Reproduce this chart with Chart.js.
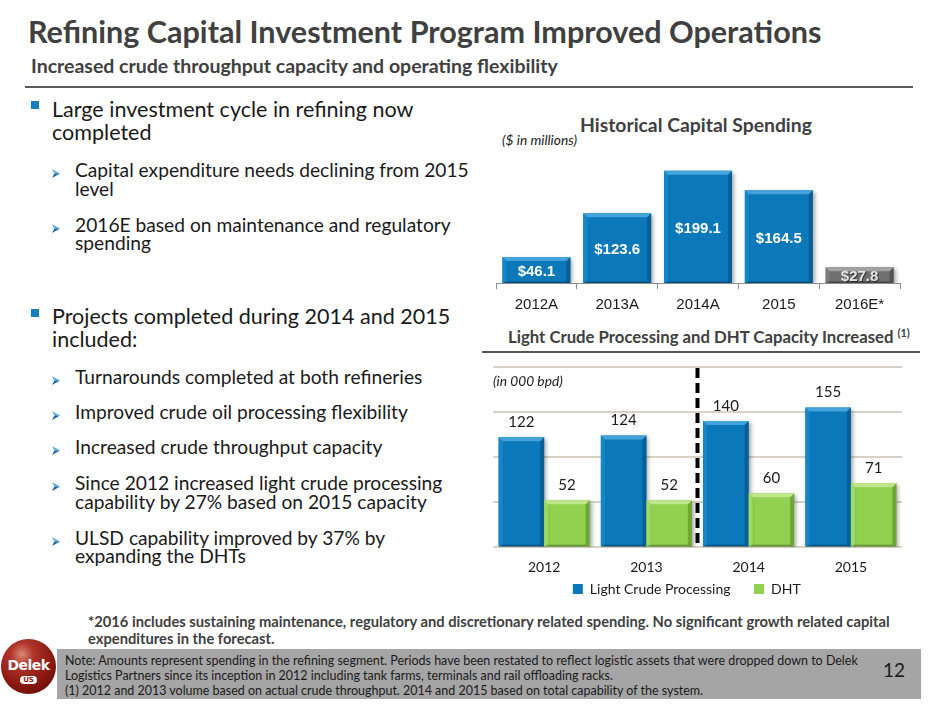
<!DOCTYPE html>
<html><head><meta charset="utf-8">
<script src="https://cdn.jsdelivr.net/npm/chart.js@4.4.1/dist/chart.umd.min.js"></script>
<style>
html,body{margin:0;padding:0;background:#fff;}
#page{position:relative;width:940px;height:705px;overflow:hidden;font-family:Lato,"Open Sans",sans-serif;}
.t{position:absolute;white-space:nowrap;line-height:1.2;color:#1a1a1a;}
.b{font-weight:700;}
.g{color:#404040;}
.i{font-style:italic;}
sup{font-size:0.65em;vertical-align:0.55em;line-height:0;}
.sq{position:absolute;width:8px;height:8px;background:#1a7fc1;}
.ar{position:absolute;width:8px;height:9px;}
#rule{position:absolute;left:25px;top:86px;width:888px;height:2px;background:#5a5a5a;}
#rule2{position:absolute;left:482px;top:351px;width:438px;height:2px;background:#555;}
#notebox{position:absolute;left:57px;top:649px;width:864px;height:50px;background:#a5a5a5;}
#logo{position:absolute;left:1px;top:639px;width:55px;height:55px;border-radius:50%;
 background:radial-gradient(circle at 38% 28%,#d98a78 0%,#b0352a 22%,#8c1a12 55%,#5c0906 100%);}
#logo .dl{position:absolute;left:0;width:55px;top:18px;text-align:center;color:#fff;font:900 14px "DejaVu Sans",sans-serif;letter-spacing:-0.5px;}
#logo .us{position:absolute;left:19px;top:37px;width:17px;height:8px;border-radius:4px;background:#fff;color:#8c1a12;font:700 7px "DejaVu Sans",sans-serif;text-align:center;line-height:8px;}
.cw{position:absolute;}
</style></head><body><div id="page">

<div class="t b g" data-g="title" data-w="794" data-b="43" style="left:28px;font-size:28px;">Refining Capital Investment Program Improved Operations</div>
<div class="t b g" data-g="sub" data-w="527" data-b="73" style="left:31px;font-size:17px;">Increased crude throughput capacity and operating flexibility</div>
<div id="rule"></div>

<div class="sq" style="left:31px;top:101px;"></div>
<div class="t" data-g="main" data-w="363" data-b="117" style="left:52px;font-size:21px;">Large investment cycle in refining now</div>
<div class="t" data-g="main" data-b="140" style="left:52px;font-size:21px;">completed</div>

<svg class="ar" style="left:52px;top:169px;" viewBox="0 0 10 11"><polygon points="0,0 10,5.5 3,5.5" fill="#5fb0e3"/><polygon points="3,5.5 10,5.5 0,11" fill="#1766ad"/></svg>
<div class="t" data-g="arr" data-w="394" data-b="177" style="left:75px;font-size:18px;">Capital expenditure needs declining from 2015</div>
<div class="t" data-g="arr" data-b="196" style="left:75px;font-size:18px;">level</div>
<svg class="ar" style="left:52px;top:224px;" viewBox="0 0 10 11"><polygon points="0,0 10,5.5 3,5.5" fill="#5fb0e3"/><polygon points="3,5.5 10,5.5 0,11" fill="#1766ad"/></svg>
<div class="t" data-g="arr" data-w="378" data-b="232" style="left:75px;font-size:18px;">2016E based on maintenance and regulatory</div>
<div class="t" data-g="arr" data-b="250" style="left:75px;font-size:18px;">spending</div>

<div class="sq" style="left:31px;top:309px;"></div>
<div class="t" data-g="main" data-w="397" data-b="324" style="left:52px;font-size:21px;">Projects completed during 2014 and 2015</div>
<div class="t" data-g="main" data-b="347" style="left:52px;font-size:21px;">included:</div>

<svg class="ar" style="left:52px;top:376px;" viewBox="0 0 10 11"><polygon points="0,0 10,5.5 3,5.5" fill="#5fb0e3"/><polygon points="3,5.5 10,5.5 0,11" fill="#1766ad"/></svg>
<div class="t" data-g="arr" data-w="353" data-b="384" style="left:75px;font-size:18px;">Turnarounds completed at both refineries</div>
<svg class="ar" style="left:52px;top:411px;" viewBox="0 0 10 11"><polygon points="0,0 10,5.5 3,5.5" fill="#5fb0e3"/><polygon points="3,5.5 10,5.5 0,11" fill="#1766ad"/></svg>
<div class="t" data-g="arr" data-w="336" data-b="419" style="left:75px;font-size:18px;">Improved crude oil processing flexibility</div>
<svg class="ar" style="left:52px;top:446px;" viewBox="0 0 10 11"><polygon points="0,0 10,5.5 3,5.5" fill="#5fb0e3"/><polygon points="3,5.5 10,5.5 0,11" fill="#1766ad"/></svg>
<div class="t" data-g="arr" data-w="310" data-b="454" style="left:75px;font-size:18px;">Increased crude throughput capacity</div>
<svg class="ar" style="left:52px;top:482px;" viewBox="0 0 10 11"><polygon points="0,0 10,5.5 3,5.5" fill="#5fb0e3"/><polygon points="3,5.5 10,5.5 0,11" fill="#1766ad"/></svg>
<div class="t" data-g="arr" data-w="367" data-b="490" style="left:75px;font-size:18px;">Since 2012 increased light crude processing</div>
<div class="t" data-g="arr" data-w="350" data-b="509" style="left:75px;font-size:18px;">capability by 27% based on 2015 capacity</div>
<svg class="ar" style="left:52px;top:537px;" viewBox="0 0 10 11"><polygon points="0,0 10,5.5 3,5.5" fill="#5fb0e3"/><polygon points="3,5.5 10,5.5 0,11" fill="#1766ad"/></svg>
<div class="t" data-g="arr" data-w="307" data-b="545" style="left:75px;font-size:18px;">ULSD capability improved by 37% by</div>
<div class="t" data-g="arr" data-w="167" data-b="563" style="left:75px;font-size:18px;">expanding the DHTs</div>

<div class="t b g" data-g="ct1" data-w="232" data-b="132" style="left:580px;font-size:19px;">Historical Capital Spending</div>
<div class="t i" data-g="unit" data-w="77" data-b="145" style="left:502px;font-size:13px;">($ in millions)</div>
<div class="cw" id="w1" style="left:490px;top:150px;width:420px;height:171px;"><canvas id="c1"></canvas></div>

<div class="t b g" data-g="ct2" data-w="402" data-b="343" style="left:508px;font-size:16px;">Light Crude Processing and DHT Capacity Increased <sup>(1)</sup></div>
<div id="rule2"></div>
<div class="cw" id="w2" style="left:482px;top:360px;width:428px;height:246px;"><canvas id="c2"></canvas></div>
<div class="t i" data-g="unit" data-w="68" data-b="386" style="left:493px;font-size:13px;">(in 000 bpd)</div>

<div class="t b g" data-g="foot" data-w="802" data-b="627" style="left:88px;font-size:13px;">*2016 includes sustaining maintenance, regulatory and discretionary related spending. No significant growth related capital</div>
<div class="t b g" data-g="foot" data-b="644" style="left:88px;font-size:13px;">expenditures in the forecast.</div>

<div id="notebox"></div>
<div class="t" data-g="note" data-w="773" data-b="665" style="left:65px;font-size:11px;">Note: Amounts represent spending in the refining segment. Periods have been restated to reflect logistic assets that were dropped down to Delek</div>
<div class="t" data-g="note" data-w="579" data-b="680" style="left:65px;font-size:11px;">Logistics Partners since its inception in 2012 including tank farms, terminals and rail offloading racks.</div>
<div class="t" data-g="note" data-w="618" data-b="695" style="left:65px;font-size:11px;">(1) 2012 and 2013 volume based on actual crude throughput. 2014 and 2015 based on total capability of the system.</div>
<div class="t" data-g="pg" data-w="22" data-b="677" style="left:883px;font-size:17px;">12</div>
<div id="logo"><div class="dl">Delek</div><div class="us">US</div></div>
</div>
<script>
// ---------- DATA ----------
const capCategories = ['2012A', '2013A', '2014A', '2015', '2016E*'];
const capSpending = [46.1, 123.6, 199.1, 164.5, 27.8];
const capIsEstimate = [false, false, false, false, true];

const crudeYears = ['2012', '2013', '2014', '2015'];
const lightCrudeProcessing = [122, 124, 140, 155];
const dhtCapacity = [52, 52, 60, 71];
const crudeSeriesNames = ['Light Crude Processing', 'DHT'];

// ---------- text fitting ----------
(function fitText(){
  const els = Array.from(document.querySelectorAll('.t'));
  const groups = {};
  els.forEach(el => {
    if (el.dataset.w) {
      const m = el.getBoundingClientRect().width;
      const r = (+el.dataset.w) / m;
      (groups[el.dataset.g] = groups[el.dataset.g] || []).push(r);
    }
  });
  els.forEach(el => {
    const rs = groups[el.dataset.g];
    if (rs) {
      const r = rs.reduce((a,b)=>a+b,0)/rs.length;
      el.style.fontSize = (parseFloat(el.style.fontSize) * r) + 'px';
    }
    const mk = document.createElement('span');
    mk.style.cssText = 'display:inline-block;width:0;height:0;vertical-align:baseline;';
    el.appendChild(mk);
    const off = mk.getBoundingClientRect().top - el.getBoundingClientRect().top;
    el.style.top = (+el.dataset.b - off) + 'px';
  });
})();

// ---------- plugins ----------
function poly(ctx, pts){ ctx.beginPath(); ctx.moveTo(pts[0][0], pts[0][1]); for (let k=1;k<pts.length;k++) ctx.lineTo(pts[k][0], pts[k][1]); ctx.closePath(); ctx.fill(); }

const bevelPlugin = {
  id: 'bevel',
  beforeDatasetsDraw(chart, args, opts){
    const ctx = chart.ctx; ctx.save();
    ctx.shadowColor = 'rgba(0,0,0,0.35)'; ctx.shadowBlur = 4; ctx.shadowOffsetX = 2; ctx.shadowOffsetY = 2;
  },
  afterDatasetsDraw(chart, args, opts){
    const ctx = chart.ctx; ctx.restore(); ctx.save();
    chart.data.datasets.forEach((ds, di) => {
      const meta = chart.getDatasetMeta(di);
      meta.data.forEach((bar, i) => {
        const p = bar.getProps(['x','y','base','width'], true);
        const l = p.x - p.width/2, r = p.x + p.width/2, t = Math.min(p.y, p.base), b = Math.max(p.y, p.base);
        const s = Math.min(opts.size, (b - t)/2);
        const pal = opts.palette(di, i);
        ctx.fillStyle = pal.left;  poly(ctx, [[l,t],[l+s,t+s],[l+s,b],[l,b]]);
        ctx.fillStyle = pal.right; poly(ctx, [[r,t],[r,b],[r-s,b],[r-s,t+s]]);
        ctx.fillStyle = pal.top;   poly(ctx, [[l,t],[r,t],[r-s,t+s],[l+s,t+s]]);
        ctx.fillStyle = pal.bottom; poly(ctx, [[l,b],[r,b],[r-s,b-1.5],[l+s,b-1.5]]);
      });
    });
    ctx.restore();
  }
};

const BLUE = {main:'#0b78b9', top:'#45a3dc', left:'#1686c7', right:'#075f97', bottom:'#06507f'};
const GREY = {main:'#6f6f6f', top:'#a2a2a2', left:'#7d7d7d', right:'#525252', bottom:'#444'};
const GREEN = {main:'#92d050', top:'#bfe68a', left:'#9fd963', right:'#6ea638', bottom:'#5e9130'};

const insideLabels = {
  id: 'insideLabels',
  afterDatasetsDraw(chart){
    const ctx = chart.ctx; const meta = chart.getDatasetMeta(0);
    ctx.save();
    ctx.font = 'bold 15px "Liberation Sans", Arial, sans-serif';
    ctx.textAlign = 'center'; ctx.textBaseline = 'middle';
    meta.data.forEach((bar, i) => {
      const p = bar.getProps(['x','y','base'], true);
      const txt = '$' + capSpending[i].toFixed(1);
      const cy = (p.y + p.base)/2 + 2;
      if (capIsEstimate[i]) {
        ctx.fillStyle = 'rgba(0,0,0,0.55)'; ctx.fillText(txt, p.x + 1, cy + 1);
        ctx.fillStyle = '#e6e6e6'; ctx.fillText(txt, p.x, cy);
      } else {
        ctx.fillStyle = '#ffffff'; ctx.fillText(txt, p.x, cy);
      }
    });
    ctx.restore();
  }
};

const topLabels = {
  id: 'topLabels',
  afterDatasetsDraw(chart){
    const ctx = chart.ctx;
    ctx.save();
    ctx.font = '15px Lato, sans-serif'; ctx.fillStyle = '#1a1a1a';
    ctx.textAlign = 'center'; ctx.textBaseline = 'middle';
    chart.data.datasets.forEach((ds, di) => {
      chart.getDatasetMeta(di).data.forEach((bar, i) => {
        const p = bar.getProps(['x','y'], true);
        ctx.fillText(String(ds.data[i]), p.x, p.y - 15);
      });
    });
    ctx.restore();
  }
};

const divider = {
  id: 'divider',
  afterDatasetsDraw(chart){
    const xs = chart.scales.x, ca = chart.chartArea, ctx = chart.ctx;
    const x = (xs.getPixelForValue(1) + xs.getPixelForValue(2)) / 2;
    ctx.save();
    ctx.strokeStyle = '#000'; ctx.lineWidth = 4; ctx.setLineDash([10, 5]);
    ctx.beginPath(); ctx.moveTo(x, ca.top + 1); ctx.lineTo(x, ca.bottom - 2); ctx.stroke();
    ctx.restore();
  }
};

// ---------- chart 1 ----------
new Chart(document.getElementById('c1'), {
  type: 'bar',
  data: {
    labels: capCategories,
    datasets: [{
      data: capSpending,
      backgroundColor: capIsEstimate.map(e => e ? GREY.main : BLUE.main),
      borderWidth: 0,
      barPercentage: 0.84, categoryPercentage: 1.0
    }]
  },
  options: {
    responsive: true, maintainAspectRatio: false, animation: false,
    layout: { padding: { left: 6, right: 10, top: 0, bottom: 0 } },
    plugins: { legend: { display: false }, tooltip: { enabled: false },
      bevel: { size: 4, palette: (di, i) => capIsEstimate[i] ? GREY : BLUE } },
    scales: {
      x: {
        grid: { display: true, drawOnChartArea: false, drawTicks: true, tickLength: 6, offset: true, color: '#8c8c8c' },
        border: { display: true, color: '#8c8c8c', width: 1 },
        ticks: { font: { family: '"Liberation Sans", Arial, sans-serif', size: 15 }, color: '#1a1a1a', padding: 7 }
      },
      y: { display: false, min: 0, max: 236 }
    }
  },
  plugins: [bevelPlugin, insideLabels]
});

// ---------- chart 2 ----------
const legendGap = '      ';
new Chart(document.getElementById('c2'), {
  type: 'bar',
  data: {
    labels: crudeYears,
    datasets: [
      { label: crudeSeriesNames[0], data: lightCrudeProcessing, backgroundColor: BLUE.main, borderWidth: 0, barPercentage: 1.0, categoryPercentage: 0.89 },
      { label: crudeSeriesNames[1], data: dhtCapacity, backgroundColor: GREEN.main, borderWidth: 0, barPercentage: 1.0, categoryPercentage: 0.89 }
    ]
  },
  options: {
    responsive: true, maintainAspectRatio: false, animation: false,
    layout: { padding: { left: 11, right: 8, top: 7, bottom: 0 } },
    plugins: {
      tooltip: { enabled: false },
      bevel: { size: 4, palette: (di) => di === 0 ? BLUE : GREEN },
      legend: { position: 'bottom', labels: {
        boxWidth: 10, boxHeight: 10, padding: 2, color: '#1a1a1a',
        font: { family: 'Lato, sans-serif', size: 14 },
        generateLabels: (chart) => Chart.defaults.plugins.legend.labels.generateLabels(chart)
          .map(item => Object.assign(item, { text: item.text + legendGap }))
      } }
    },
    scales: {
      x: {
        grid: { display: false }, border: { display: false },
        ticks: { font: { family: 'Lato, sans-serif', size: 14 }, color: '#1a1a1a', padding: 4 }
      },
      y: {
        min: 0, max: 200,
        ticks: { display: false, stepSize: 50 },
        grid: { color: '#d8d2c6', lineWidth: 2, drawTicks: false },
        border: { display: false }
      }
    }
  },
  plugins: [bevelPlugin, topLabels, divider]
});
</script>
</body></html>
